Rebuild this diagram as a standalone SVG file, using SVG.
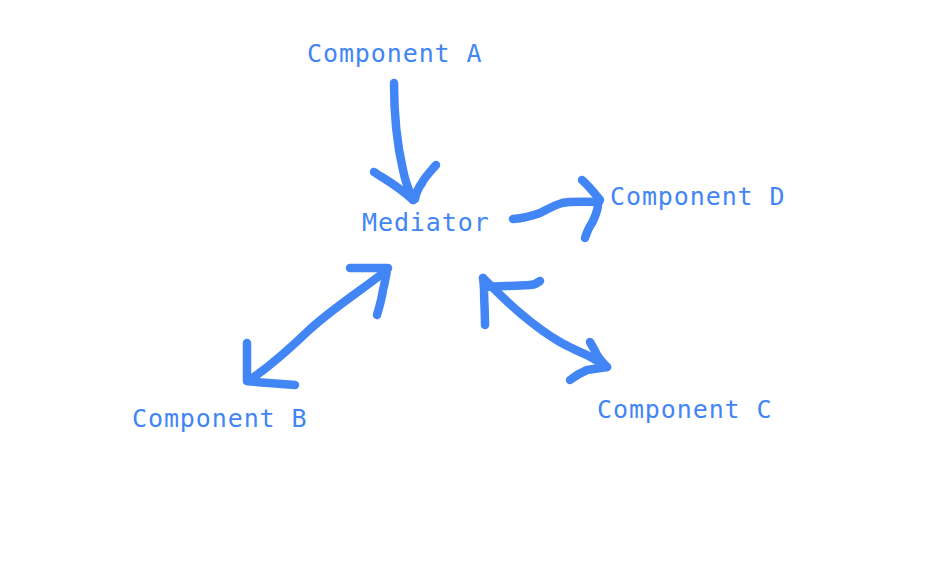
<svg xmlns="http://www.w3.org/2000/svg" width="926" height="570" viewBox="0 0 926 570">
<style>
.lbl{font-family:"DejaVu Sans Mono","Liberation Mono",monospace;font-size:25px;letter-spacing:0.9px;fill:#4285F4}
.s{fill:none;stroke:#4285F4;stroke-width:8.5;stroke-linecap:round;stroke-linejoin:round}
</style>
<rect width="926" height="570" fill="#ffffff"/>
<g id="componentA"><text class="lbl" x="307" y="62">Component A</text></g>
<g id="mediator"><text class="lbl" x="362" y="231">Mediator</text></g>
<g id="componentD"><text class="lbl" x="610" y="205">Component D</text></g>
<g id="componentB"><text class="lbl" x="132" y="427">Component B</text></g>
<g id="componentC"><text class="lbl" x="597" y="418">Component C</text></g>
<g id="connectors">
<path class="s" d="M394,83 C394,110 396,140 403,170 C406,185 410,193 413,200"/>
<path class="s" d="M374,172 C386,180 398,186 413,200"/>
<path class="s" d="M436,165 C430,172 424,178 422,183 C418,188 416,193 415,199"/>
<path class="s" d="M513,219 C525,218 532,216 540,213 C548,209 555,205 562,203 C572,201 582,202 599,202"/>
<path class="s" d="M582,180 C588,185 592,190 600,200"/>
<path class="s" d="M585,238 C587,232 589,227 592,223 C595,217 597,212 598,206"/>
<path class="s" d="M387,270 C362,290 330,310 307,332 S268,368 248,381"/>
<path class="s" d="M350,268 C365,268 376,268 388,268"/>
<path class="s" d="M377,315 C380,305 382,297 383,290 C385,282 386,276 387,270"/>
<path class="s" d="M247,343 C247,352 247,362 247,370 L247,381 C262,383 280,384 295,385"/>
<path class="s" d="M483,278 C495,290 507,302 520,313 C533,324 546,334 560,342 C567,346 574,349 580,352 C590,356 598,361 607,367"/>
<path class="s" d="M540,281 C536,284 533,285 530,285 C516,286 503,286 484,287 C484,300 485,312 485,325"/>
<path class="s" d="M484,287 L483,278"/>
<path class="s" d="M590,342 C593,347 595,351 597,355 C600,360 604,364 607,367 C600,368 593,369 587,370 C580,373 575,376 570,380"/>
</g>
</svg>
